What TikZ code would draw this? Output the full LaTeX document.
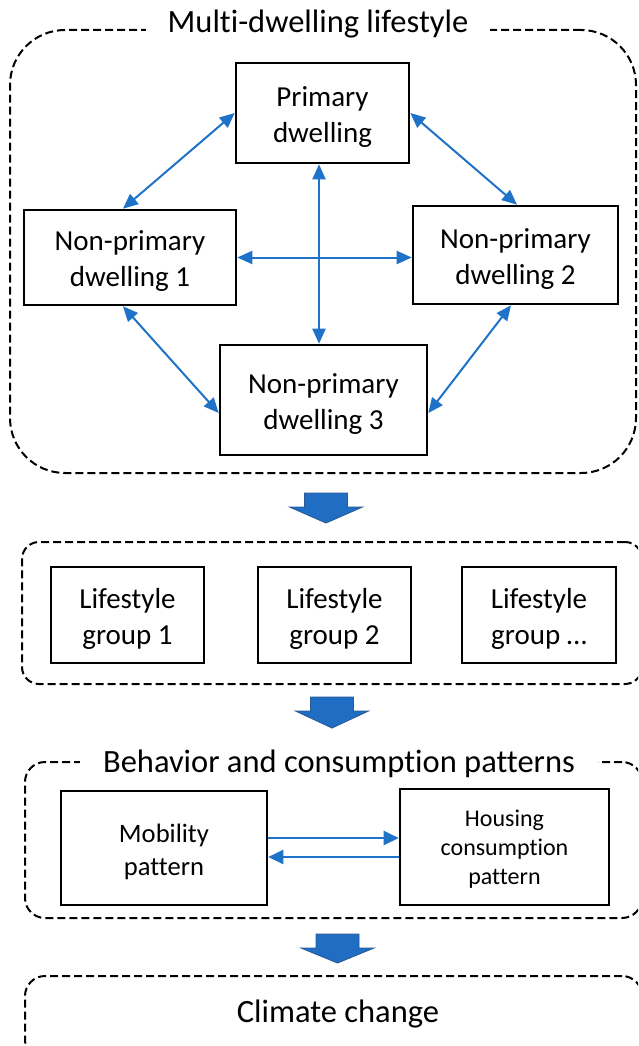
\documentclass[tikz,border=0pt]{standalone}
\usepackage{fontspec}
\setmainfont[Ligatures=NoCommon]{Carlito}
\usetikzlibrary{arrows.meta}
\definecolor{connblue}{HTML}{1E73C8}
\definecolor{bafill}{HTML}{1F6EC4}
\definecolor{baedge}{HTML}{2B5A96}
\newcommand{\lowr}{\rule{0pt}{0.95em}}
\begin{document}
\begin{tikzpicture}[x=1pt,y=-1pt,
  box/.style={draw=black, line width=2.6pt, inner sep=0pt, align=center, font=\fontsize{29}{36}\selectfont},
  grp/.style={draw=black, line width=2pt, dash pattern=on 8pt off 4pt, inner sep=0pt},
  ttl/.style={fill=white, inner ysep=2pt, font=\fontsize{32.5}{39}\selectfont, anchor=base},
  biarr/.style={draw=connblue, line width=2pt, {Triangle[length=15pt,width=13pt]}-{Triangle[length=15pt,width=13pt]}},
  uniarr/.style={draw=connblue, line width=2.2pt, -{Triangle[length=15pt,width=14pt]}},
  blockarrow/.style={fill=bafill, draw=baedge, line width=0.9pt, line join=miter}
]
\clip (0,0) rectangle (638,1046);
\fill[white] (0,0) rectangle (638,1046);

% group 1
\node[grp, rounded corners=55pt, minimum width=626pt, minimum height=443pt] (g1) at (323,251.5) {};
\node[ttl, inner xsep=22pt] (t1) at (318,33) {Multi-dwelling lifestyle};

\node[box, minimum width=173pt, minimum height=100pt] (prim) at (322.5,113) {\lowr Primary\\dwelling};
\node[box, minimum width=212pt, minimum height=95pt] (np1) at (130,257.5) {\lowr Non-primary\\dwelling 1};
\node[box, minimum width=205pt, minimum height=98pt] (np2) at (515.5,255) {\lowr Non-primary\\dwelling 2};
\node[box, minimum width=207pt, minimum height=110pt] (np3) at (323.5,400) {\lowr Non-primary\\dwelling 3};

\draw[biarr] (prim.west) -- ([xshift=-7pt]np1.north);
\draw[biarr] (prim.east) -- ([xshift=1.5pt]np2.north);
\draw[biarr] ([xshift=-3.5pt]prim.south) -- ([xshift=-3.5pt]prim.south |- np3.north);
\draw[biarr] (np1.east) -- (np1.east -| np2.west);
\draw[biarr] ([xshift=-7pt]np1.south) -- ([yshift=-13pt]np3.west);
\draw[biarr] ([xshift=-4.5pt]np2.south) -- ([yshift=-13pt]np3.east);

% block arrow 1
\coordinate (ba1) at (326,493);
\draw[blockarrow] (ba1) ++(-21.5,0) -- ++(43,0) -- ++(0,14) -- ++(15,0) -- ++(-36.5,16) -- ++(-36.5,-16) -- ++(15,0) -- cycle;

% group 2
\node[grp, rounded corners=17pt, minimum width=620pt, minimum height=142pt] (g2) at (332,613) {};
\node[box, minimum width=153pt, minimum height=96pt] (lg1) at (127.5,615) {\lowr Lifestyle\\group 1};
\node[box, minimum width=153pt, minimum height=96pt] (lg2) at (334.5,615) {\lowr Lifestyle\\group 2};
\node[box, minimum width=154pt, minimum height=96pt] (lg3) at (539,615) {\lowr Lifestyle\\group …};

% block arrow 2
\coordinate (ba2) at (332,697);
\draw[blockarrow] (ba2) ++(-21.5,0) -- ++(43,0) -- ++(0,14) -- ++(15,0) -- ++(-36.5,17) -- ++(-36.5,-17) -- ++(15,0) -- cycle;

% group 3
\node[grp, rounded corners=20pt, minimum width=617pt, minimum height=156pt] (g3) at (333.5,840) {};
\node[ttl, inner xsep=23pt] (t3) at (339,772) {Behavior and consumption patterns};
\node[box, minimum width=206pt, minimum height=114pt, font=\fontsize{26.6}{33}\selectfont] (mob) at (164,848) {\lowr Mobility\\pattern};
\node[box, minimum width=209pt, minimum height=116pt, font=\fontsize{24}{29}\selectfont] (hou) at (504.5,847) {\rule{0pt}{0.85em}Housing\\consumption\\pattern};
\draw[uniarr] ([yshift=10pt]mob.east) -- ([yshift=10pt]mob.east -| hou.west);
\draw[uniarr] ([yshift=-10pt]hou.west) -- ([yshift=-10pt]hou.west -| mob.east);

% block arrow 3
\coordinate (ba3) at (337.5,934);
\draw[blockarrow] (ba3) ++(-21.5,0) -- ++(43,0) -- ++(0,14) -- ++(15,0) -- ++(-36.5,15) -- ++(-36.5,-15) -- ++(15,0) -- cycle;

% group 4
\node[grp, rounded corners=20pt, minimum width=617pt, minimum height=84pt] (g4) at (333.5,1018) {};
\node[font=\fontsize{32.5}{39}\selectfont, anchor=base, inner sep=0pt] (cc) at (338,1022) {Climate change};
\end{tikzpicture}
\end{document}
